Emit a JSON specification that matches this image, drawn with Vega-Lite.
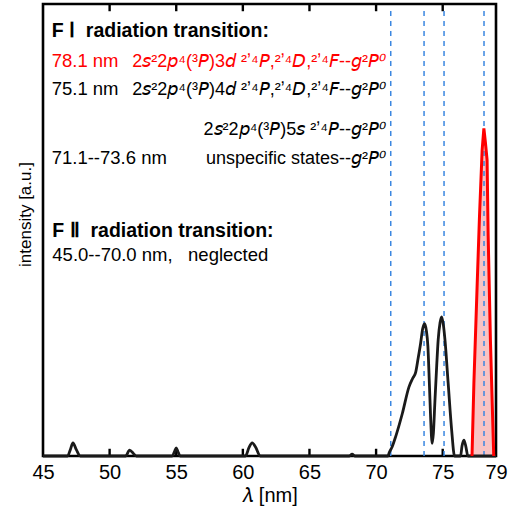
{
  "$schema": "https://vega.github.io/schema/vega-lite/v6.json",
  "width": 453,
  "height": 452,
  "autosize": {"type": "none"},
  "padding": {"left": 43, "top": 4, "right": 24, "bottom": 57},
  "background": "white",
  "config": {
    "view": {"stroke": "black", "strokeWidth": 2.6},
    "font": "Liberation Sans",
    "axis": {"grid": false, "domain": false},
    "axisY": {"labels": false, "ticks": false, "titleFontSize": 17, "titleFontWeight": "normal", "titleColor": "black", "titlePadding": 9, "titleY": 210}
  },
  "datasets": {
    "black": [
      {"lambda": 45, "intensity": 0}, {"lambda": 46.85, "intensity": 0}, {"lambda": 47.05, "intensity": 0.014}, {"lambda": 47.25, "intensity": 0.029}, {"lambda": 47.5, "intensity": 0.014}, {"lambda": 47.8, "intensity": 0},
      {"lambda": 51.2, "intensity": 0}, {"lambda": 51.5, "intensity": 0.013}, {"lambda": 51.8, "intensity": 0.005}, {"lambda": 52.0, "intensity": 0},
      {"lambda": 54.7, "intensity": 0}, {"lambda": 54.9, "intensity": 0.012}, {"lambda": 55.0, "intensity": 0.018}, {"lambda": 55.15, "intensity": 0.008}, {"lambda": 55.3, "intensity": 0},
      {"lambda": 60.2, "intensity": 0}, {"lambda": 60.45, "intensity": 0.018}, {"lambda": 60.7, "intensity": 0.029}, {"lambda": 60.95, "intensity": 0.02}, {"lambda": 61.3, "intensity": 0},
      {"lambda": 68.0, "intensity": 0}, {"lambda": 68.2, "intensity": 0.004}, {"lambda": 68.4, "intensity": 0},
      {"lambda": 70.9, "intensity": 0}, {"lambda": 70.97, "intensity": 0.006}, {"lambda": 71.2, "intensity": 0.02}, {"lambda": 71.47, "intensity": 0.043}, {"lambda": 71.97, "intensity": 0.094}, {"lambda": 72.47, "intensity": 0.153}, {"lambda": 72.75, "intensity": 0.172}, {"lambda": 72.97, "intensity": 0.185}, {"lambda": 73.15, "intensity": 0.215}, {"lambda": 73.34, "intensity": 0.249}, {"lambda": 73.5, "intensity": 0.282}, {"lambda": 73.64, "intensity": 0.293}, {"lambda": 73.77, "intensity": 0.278}, {"lambda": 73.89, "intensity": 0.242}, {"lambda": 74.0, "intensity": 0.16}, {"lambda": 74.09, "intensity": 0.087}, {"lambda": 74.21, "intensity": 0.028}, {"lambda": 74.3, "intensity": 0.05}, {"lambda": 74.42, "intensity": 0.124}, {"lambda": 74.55, "intensity": 0.2}, {"lambda": 74.66, "intensity": 0.257}, {"lambda": 74.8, "intensity": 0.295}, {"lambda": 74.92, "intensity": 0.308}, {"lambda": 75.05, "intensity": 0.29}, {"lambda": 75.17, "intensity": 0.257}, {"lambda": 75.41, "intensity": 0.161}, {"lambda": 75.67, "intensity": 0.058}, {"lambda": 75.89, "intensity": 0},
      {"lambda": 76.34, "intensity": 0}, {"lambda": 76.45, "intensity": 0.022}, {"lambda": 76.59, "intensity": 0.035}, {"lambda": 76.73, "intensity": 0.022}, {"lambda": 76.89, "intensity": 0}, {"lambda": 79, "intensity": 0}
    ],
    "red": [
      {"lambda": 77.2, "intensity": 0}, {"lambda": 77.34, "intensity": 0.161}, {"lambda": 77.59, "intensity": 0.382}, {"lambda": 77.76, "intensity": 0.529}, {"lambda": 77.96, "intensity": 0.677}, {"lambda": 78.09, "intensity": 0.725}, {"lambda": 78.21, "intensity": 0.692}, {"lambda": 78.33, "intensity": 0.655}, {"lambda": 78.41, "intensity": 0.49}, {"lambda": 78.58, "intensity": 0.257}, {"lambda": 78.83, "intensity": 0}
    ],
    "transitions": [
      {"lambda": 71.1}, {"lambda": 73.6}, {"lambda": 75.1}, {"lambda": 78.1}
    ],
    "majorpos": [
      {"lambda": 50, "lo": 0, "hi": 0.016, "lo2": 0.984, "hi2": 1}, {"lambda": 55, "lo": 0, "hi": 0.016, "lo2": 0.984, "hi2": 1}, {"lambda": 60, "lo": 0, "hi": 0.016, "lo2": 0.984, "hi2": 1}, {"lambda": 65, "lo": 0, "hi": 0.016, "lo2": 0.984, "hi2": 1}, {"lambda": 70, "lo": 0, "hi": 0.016, "lo2": 0.984, "hi2": 1}, {"lambda": 75, "lo": 0, "hi": 0.016, "lo2": 0.984, "hi2": 1}
    ],
    "labels": [
      {"role": "head", "lx": 45.65, "ly": 0.9277, "t": "F \u2160\u00A0\u00A0radiation transition:"},
      {"role": "head", "lx": 45.7, "ly": 0.4852, "t": "F \u2161\u00A0\u00A0radiation transition:"},
      {"role": "redleft", "lx": 45.65, "ly": 0.8613, "t": "78.1 nm"},
      {"role": "redright", "lx": 70.75, "ly": 0.8613, "t": "2\uD835\uDE34\u00B22\uD835\uDE31\u2074(\u00B3\uD835\uDE17)3\uD835\uDE25 \u00B2\u02BC\u2074\uD835\uDE17,\u00B2\u02BC\u2074\uD835\uDE0B,\u00B2\u02BC\u2074\uD835\uDE0D--\uD835\uDE28\u00B2\uD835\uDE17\u2070"},
      {"role": "left", "lx": 45.65, "ly": 0.7978, "t": "75.1 nm"},
      {"role": "right", "lx": 70.75, "ly": 0.7978, "t": "2\uD835\uDE34\u00B22\uD835\uDE31\u2074(\u00B3\uD835\uDE17)4\uD835\uDE25 \u00B2\u02BC\u2074\uD835\uDE17,\u00B2\u02BC\u2074\uD835\uDE0B,\u00B2\u02BC\u2074\uD835\uDE0D--\uD835\uDE28\u00B2\uD835\uDE17\u2070"},
      {"role": "right", "lx": 70.75, "ly": 0.7102, "t": "2\uD835\uDE34\u00B22\uD835\uDE31\u2074(\u00B3\uD835\uDE17)5\uD835\uDE34 \u00B2\u02BC\u2074\uD835\uDE17--\uD835\uDE28\u00B2\uD835\uDE17\u2070"},
      {"role": "left", "lx": 45.65, "ly": 0.646, "t": "71.1--73.6 nm"},
      {"role": "right", "lx": 70.75, "ly": 0.646, "t": "unspecific states--\uD835\uDE28\u00B2\uD835\uDE17\u2070"},
      {"role": "left", "lx": 45.7, "ly": 0.4321, "t": "45.0--70.0 nm,\u00A0\u00A0\u00A0neglected"}
    ]
  },
  "layer": [
    {
      "data": {"name": "red"},
      "mark": {"type": "area", "color": "#f9c3c3"},
      "encoding": {
        "x": {"field": "lambda", "type": "quantitative", "scale": {"domain": [45, 79], "nice": false, "zero": false},
          "axis": {"orient": "bottom", "values": [45, 50, 55, 60, 65, 70, 75, 79], "ticks": false, "labelFontSize": 20, "labelColor": "black", "labelPadding": 6, "labelFlush": false, "labelOverlap": false,
            "title": "\uD835\uDF06 [nm]", "titleFontSize": 20, "titleFontWeight": "normal", "titleColor": "black", "titlePadding": 3}},
        "y": {"field": "intensity", "type": "quantitative", "scale": {"domain": [0, 1], "nice": false}, "axis": {"title": "intensity [a.u.]"}}
      }
    },
    {
      "data": {"name": "majorpos"},
      "mark": {"type": "rule", "stroke": "#000000", "strokeWidth": 2.4, "opacity": 1},
      "encoding": {
        "x": {"field": "lambda", "type": "quantitative", "axis": null},
        "y": {"field": "lo", "type": "quantitative", "axis": {"title": "intensity [a.u.]"}},
        "y2": {"field": "hi"}
      }
    },
    {
      "data": {"name": "majorpos"},
      "mark": {"type": "rule", "stroke": "#000000", "strokeWidth": 2.4, "opacity": 1},
      "encoding": {
        "x": {"field": "lambda", "type": "quantitative", "axis": null},
        "y": {"field": "lo2", "type": "quantitative", "axis": {"title": "intensity [a.u.]"}},
        "y2": {"field": "hi2"}
      }
    },
    {
      "data": {"name": "transitions"},
      "mark": {"type": "rule", "color": "#3b87e0", "strokeDash": [5, 5], "strokeWidth": 1.5},
      "encoding": {
        "x": {"field": "lambda", "type": "quantitative", "axis": null},
        "y": {"datum": 0, "type": "quantitative", "axis": {"title": "intensity [a.u.]"}},
        "y2": {"datum": 0.985}
      }
    },
    {
      "data": {"name": "black"},
      "mark": {"type": "line", "color": "#1a1a1a", "strokeWidth": 2.8, "interpolate": "monotone"},
      "encoding": {
        "x": {"field": "lambda", "type": "quantitative", "axis": null},
        "y": {"field": "intensity", "type": "quantitative", "axis": {"title": "intensity [a.u.]"}}
      }
    },
    {
      "data": {"name": "red"},
      "mark": {"type": "line", "color": "#ff0000", "strokeWidth": 3},
      "encoding": {
        "x": {"field": "lambda", "type": "quantitative", "axis": null},
        "y": {"field": "intensity", "type": "quantitative", "axis": {"title": "intensity [a.u.]"}}
      }
    },
    {
      "data": {"name": "labels"},
      "transform": [{"filter": "datum.role == 'head'"}],
      "mark": {"type": "text", "align": "left", "baseline": "alphabetic", "fontSize": 19.5, "fontWeight": "bold", "color": "black"},
      "encoding": {
        "x": {"field": "lx", "type": "quantitative", "axis": null},
        "y": {"field": "ly", "type": "quantitative", "axis": {"title": "intensity [a.u.]"}},
        "text": {"field": "t"}
      }
    },
    {
      "data": {"name": "labels"},
      "transform": [{"filter": "datum.role == 'redleft'"}],
      "mark": {"type": "text", "align": "left", "baseline": "alphabetic", "fontSize": 18.5, "color": "#ff0000"},
      "encoding": {
        "x": {"field": "lx", "type": "quantitative", "axis": null},
        "y": {"field": "ly", "type": "quantitative", "axis": {"title": "intensity [a.u.]"}},
        "text": {"field": "t"}
      }
    },
    {
      "data": {"name": "labels"},
      "transform": [{"filter": "datum.role == 'redright'"}],
      "mark": {"type": "text", "align": "right", "baseline": "alphabetic", "fontSize": 18, "color": "#ff0000"},
      "encoding": {
        "x": {"field": "lx", "type": "quantitative", "axis": null},
        "y": {"field": "ly", "type": "quantitative", "axis": {"title": "intensity [a.u.]"}},
        "text": {"field": "t"}
      }
    },
    {
      "data": {"name": "labels"},
      "transform": [{"filter": "datum.role == 'left'"}],
      "mark": {"type": "text", "align": "left", "baseline": "alphabetic", "fontSize": 18.5, "color": "black"},
      "encoding": {
        "x": {"field": "lx", "type": "quantitative", "axis": null},
        "y": {"field": "ly", "type": "quantitative", "axis": {"title": "intensity [a.u.]"}},
        "text": {"field": "t"}
      }
    },
    {
      "data": {"name": "labels"},
      "transform": [{"filter": "datum.role == 'right'"}],
      "mark": {"type": "text", "align": "right", "baseline": "alphabetic", "fontSize": 18, "color": "black"},
      "encoding": {
        "x": {"field": "lx", "type": "quantitative", "axis": null},
        "y": {"field": "ly", "type": "quantitative", "axis": {"title": "intensity [a.u.]"}},
        "text": {"field": "t"}
      }
    }
  ],
  "resolve": {"axis": {"x": "independent"}}
}
